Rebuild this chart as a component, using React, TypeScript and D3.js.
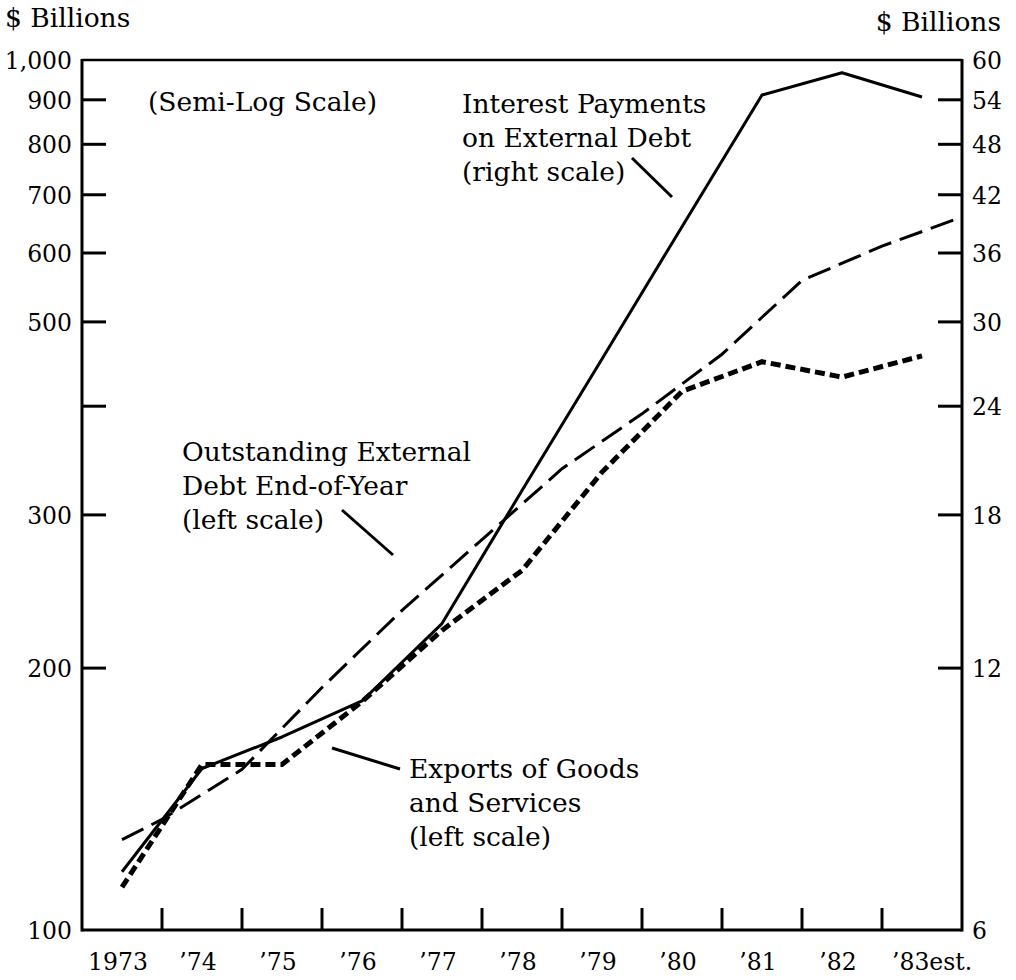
import React from 'react';
import * as d3 from 'd3';

// ---- Data ----
const years = [1973, 1974, 1975, 1976, 1977, 1978, 1979, 1980, 1981, 1982, 1983];
const yearLabels = ['1973', '’74', '’75', '’76', '’77', '’78', '’79', '’80', '’81', '’82', '’83est.'];

// Exports of goods and services, $ billions (left scale), mid-year
const exportsValues = [112, 155, 155, 183, 221, 259, 336, 416, 450, 432, 457];

// Interest payments on external debt, $ billions (right scale), mid-year
const interestValues = [7.0, 9.2, 10.0, 11.0, 13.5, 19.2, 27.2, 38.6, 54.7, 58.0, 54.4];

// Outstanding external debt, end-of-year, $ billions (left scale)
const debtTimes = [1973.5, 1974, 1975, 1976, 1977, 1978, 1979, 1980, 1981, 1982, 1983, 1984];
const debtValues = [127, 134, 153, 190, 233, 281, 339, 392, 459, 558, 611, 660];

const leftTicks = [1000, 900, 800, 700, 600, 500, 400, 300, 200, 100];
const leftTickLabels = ['1,000', '900', '800', '700', '600', '500', '', '300', '200', '100'];
const rightTicks = [60, 54, 48, 42, 36, 30, 24, 18, 12, 6];
const rightTickLabels = ['60', '54', '48', '42', '36', '30', '24', '18', '12', '6'];
const yearBoundaries = [1974, 1975, 1976, 1977, 1978, 1979, 1980, 1981, 1982, 1983];

const W = 1016;
const H = 980;
const L = 82;
const R = 962;
const T = 60;
const B = 930;
const FONT = '"DejaVu Serif", "Liberation Serif", serif';
const NUM = 23.5;
const TXT = 26.5;

export default function App() {
  const x = d3.scaleLinear().domain([1973, 1984]).range([L, R]);
  const yL = d3.scaleLog().domain([100, 1000]).range([B, T]);
  const yR = d3.scaleLog().domain([6, 60]).range([B, T]);

  const line = d3.line<[number, number]>().x(d => d[0]).y(d => d[1]);

  const exportsPath = line(years.map((yr, i) => [x(yr + 0.5), yL(exportsValues[i])]));
  const interestPath = line(years.map((yr, i) => [x(yr + 0.5), yR(interestValues[i])]));
  const debtPath = line(debtTimes.map((t, i) => [x(t), yL(debtValues[i])]));

  const tickLen = 24;

  return (
    <svg
      width={W}
      height={H}
      viewBox={`0 0 ${W} ${H}`}
      style={{ position: 'absolute', left: 0, top: 0, background: '#fff' }}
      fontFamily={FONT}
    >
      <rect x={0} y={0} width={W} height={H} fill="#fff" />

      {/* frame */}
      <line x1={L} y1={T} x2={R} y2={T} stroke="#000" strokeWidth={2.5} />
      <line x1={L} y1={T - 1} x2={L} y2={B + 1.5} stroke="#000" strokeWidth={3} />
      <line x1={R} y1={T - 1} x2={R} y2={B + 1.5} stroke="#000" strokeWidth={3} />
      <line x1={L} y1={B} x2={R} y2={B} stroke="#000" strokeWidth={3} />

      {/* left ticks and labels */}
      {leftTicks.map((v, i) => (
        <g key={'l' + v}>
          {v !== 1000 && v !== 100 && (
            <line x1={L} x2={L + tickLen} y1={yL(v)} y2={yL(v)} stroke="#000" strokeWidth={3} />
          )}
          {leftTickLabels[i] && (
            <text x={72} y={yL(v)} dy="0.38em" textAnchor="end" fontSize={NUM} fill="#000">
              {leftTickLabels[i]}
            </text>
          )}
        </g>
      ))}

      {/* right ticks and labels */}
      {rightTicks.map((v, i) => (
        <g key={'r' + v}>
          {v !== 60 && v !== 6 && (
            <line x1={R - tickLen} x2={R} y1={yR(v)} y2={yR(v)} stroke="#000" strokeWidth={3} />
          )}
          <text x={972} y={yR(v)} dy="0.38em" textAnchor="start" fontSize={NUM} fill="#000">
            {rightTickLabels[i]}
          </text>
        </g>
      ))}

      {/* bottom ticks */}
      {yearBoundaries.map(t => (
        <line key={'b' + t} x1={x(t)} x2={x(t)} y1={B} y2={B - 22} stroke="#000" strokeWidth={3} />
      ))}

      {/* year labels */}
      {years.map((yr, i) => {
        const last = i === years.length - 1;
        return (
          <text
            key={'y' + yr}
            x={last ? x(yr + 0.5) - 30 : x(yr + 0.5) - 4}
            y={970}
            textAnchor={last ? 'start' : 'middle'}
            fontSize={NUM}
            fill="#000"
          >
            {yearLabels[i]}
          </text>
        );
      })}

      {/* axis unit titles */}
      <text x={5} y={27} fontSize={TXT} fill="#000">$ Billions</text>
      <text x={1001} y={31} fontSize={TXT} textAnchor="end" fill="#000">$ Billions</text>

      {/* series */}
      <path d={debtPath || ''} fill="none" stroke="#000" strokeWidth={3} strokeDasharray="24 9" />
      <path d={exportsPath || ''} fill="none" stroke="#000" strokeWidth={5} strokeDasharray="10 5" />
      <path d={interestPath || ''} fill="none" stroke="#000" strokeWidth={3} strokeLinejoin="round" />

      {/* annotations */}
      <text x={148} y={111} fontSize={TXT} fill="#000">(Semi-Log Scale)</text>

      <text fontSize={TXT} fill="#000">
        <tspan x={462} y={113}>Interest Payments</tspan>
        <tspan x={462} y={147}>on External Debt</tspan>
        <tspan x={462} y={181}>(right scale)</tspan>
      </text>
      <line x1={632} y1={158} x2={672} y2={197} stroke="#000" strokeWidth={3} />

      <text fontSize={TXT} fill="#000">
        <tspan x={182} y={461}>Outstanding External</tspan>
        <tspan x={182} y={495}>Debt End-of-Year</tspan>
        <tspan x={182} y={529}>(left scale)</tspan>
      </text>
      <line x1={342} y1={510} x2={393} y2={555} stroke="#000" strokeWidth={3} />

      <text fontSize={TXT} fill="#000">
        <tspan x={409} y={778}>Exports of Goods</tspan>
        <tspan x={409} y={812}>and Services</tspan>
        <tspan x={409} y={846}>(left scale)</tspan>
      </text>
      <line x1={332} y1={748} x2={400} y2={769} stroke="#000" strokeWidth={3} />
    </svg>
  );
}
